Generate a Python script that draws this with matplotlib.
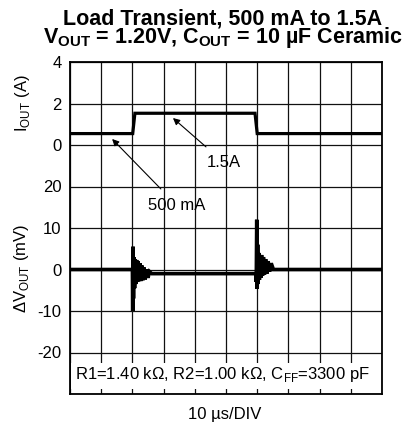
import matplotlib
matplotlib.use("Agg")
import matplotlib.pyplot as plt
from matplotlib.patches import Rectangle

plt.rcParams['font.family'] = ['Liberation Sans', 'DejaVu Sans']
plt.rcParams['mathtext.fontset'] = 'custom'
plt.rcParams['mathtext.rm'] = 'Liberation Sans'
plt.rcParams['mathtext.bf'] = 'Liberation Sans:bold'

# ---- data ----
time_ticks = [0, 10, 20, 30, 40, 50, 60, 70, 80, 90, 100]   # µs, 10 µs/DIV
iout_t = [0, 20.1, 20.8, 59.3, 60.0, 100]                   # µs
iout_a = [0.55, 0.55, 1.53, 1.53, 0.55, 0.55]               # A
dv_t = [0, 20.0, 20.1, 20.2, 20.35, 20.5, 20.7, 20.9, 21.1, 21.35, 21.6, 21.85,
        22.1, 22.4, 22.7, 23.0, 23.35, 23.7, 24.1, 24.5, 25.0, 25.5, 26.2,
        59.6, 59.7, 59.85, 60.0, 60.15, 60.3, 60.5, 60.7, 60.9, 61.15, 61.4,
        61.7, 62.0, 62.35, 62.7, 63.1, 63.5, 64.0, 64.5, 65.2, 100]
dv_mv = [0, 0, -10, 5.5, -7, 3, -4.5, 2.5, -3.5, 2.3, -3, 2,
         -2.8, 1.5, -2.8, 1, -2.6, 0.5, -2.4, 0, -2, -0.5, -1,
         -1, -3, 12, -4.7, 6, -3.5, 4, -2.5, 3.5, -2, 3.5,
         -1.5, 3, -1.2, 2.5, -1, 2, -0.5, 1.5, 0, 0]
i_ticks = [0, 2, 4]
v_ticks = [-20, -10, 0, 10, 20]

fig = plt.figure(figsize=(4.07, 4.29), dpi=100)
pos = [70/407, 35/429, 312/407, 332/429]

axv = fig.add_axes(pos)
axv.set_xlim(0, 100)
axv.set_ylim(-30, 50)
axv.set_xticks(time_ticks)
axv.set_xticklabels([])
axv.set_yticks(v_ticks + [30, 40, 50, -30])
axv.set_yticklabels([str(v) for v in v_ticks] + ['', '', '', ''])
axv.tick_params(length=0, labelsize=12, pad=6)
axv.grid(True, color='#111111', lw=0.9)
axv.set_axisbelow(True)
for s in axv.spines.values():
    s.set_linewidth(1.3)

axi = fig.add_axes(pos)
axi.patch.set_alpha(0)
axi.set_xlim(0, 100)
axi.set_ylim(-12, 4)
axi.set_xticks([])
axi.set_yticks(i_ticks)
axi.set_yticklabels([str(v) for v in i_ticks])
axi.tick_params(length=0, labelsize=12, pad=6)
for s in axi.spines.values():
    s.set_visible(False)

axv.plot(dv_t, dv_mv, color='black', lw=2.6, solid_joinstyle='miter', zorder=3)
axi.plot(iout_t, iout_a, color='black', lw=2.3, solid_joinstyle='miter', zorder=3)

# annotations
axi.annotate('1.5A', xy=(33.0, 1.30), xytext=(43.9, -0.85), fontsize=12,
             va='center', ha='left',
             arrowprops=dict(arrowstyle='-|>', color='black', lw=0.8,
                             mutation_scale=10, shrinkA=6, shrinkB=0))
axi.annotate('500 mA', xy=(13.5, 0.29), xytext=(25.0, -2.9), fontsize=12,
             va='center', ha='left',
             arrowprops=dict(arrowstyle='-|>', color='black', lw=0.8,
                             mutation_scale=10, shrinkA=6, shrinkB=0))

# component note
axv.add_patch(Rectangle((0.004, 0.014), 0.992, 0.079, transform=axv.transAxes,
                        facecolor='white', edgecolor='none', zorder=4))
axv.text(0.489, 0.058, r'R1=1.40 k$\Omega$, R2=1.00 k$\Omega$, C$_{\mathregular{FF}}$=3300 pF',
         transform=axv.transAxes, ha='center', va='center', fontsize=12, zorder=5)

# labels
fig.text(22/407, 1 - 103/429, r'I$_{\mathregular{OUT}}$ (A)', rotation=90,
         ha='center', va='center', fontsize=12)
fig.text(22/407, 1 - 268/429, r'$\Delta$V$_{\mathregular{OUT}}$ (mV)', rotation=90,
         ha='center', va='center', fontsize=12)
fig.text(225/407, 1 - 414/429, '10 µs/DIV', ha='center', va='center', fontsize=12)

fig.text(223/407, 1 - 43/429,
         'Load Transient, 500 mA to 1.5A\n'
         r'V$_{\mathregular{OUT}}$ = 1.20V, C$_{\mathregular{OUT}}$ = 10 µF Ceramic',
         ha='center', va='baseline', multialignment='center', linespacing=0.74,
         fontsize=15.5, fontweight='bold')

fig.savefig('out.png', dpi=100)
